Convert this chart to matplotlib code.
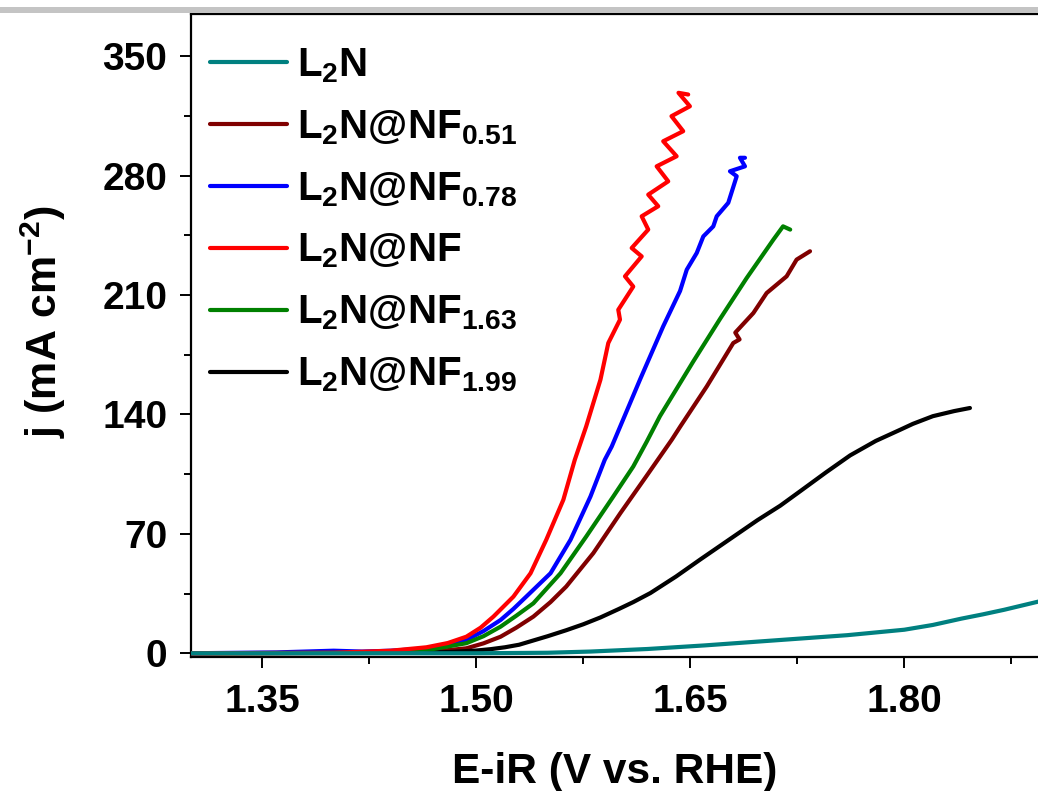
import matplotlib
matplotlib.use("Agg")
import matplotlib.pyplot as plt
from matplotlib.patches import Rectangle

plt.rcParams['font.family'] = ['Liberation Sans', 'DejaVu Sans']
plt.rcParams['font.weight'] = 'bold'
plt.rcParams['mathtext.fontset'] = 'custom'
plt.rcParams['mathtext.rm'] = 'Liberation Sans:bold'
plt.rcParams['mathtext.it'] = 'Liberation Sans:bold'
plt.rcParams['mathtext.bf'] = 'Liberation Sans:bold'
plt.rcParams['mathtext.default'] = 'rm'

# ---------------- data ----------------
labels = ["L$_2$N", "L$_2$N@NF$_{0.51}$", "L$_2$N@NF$_{0.78}$",
          "L$_2$N@NF", "L$_2$N@NF$_{1.63}$", "L$_2$N@NF$_{1.99}$"]
colors = ["#008080", "#800000", "#0000ff", "#ff0000", "#008000", "#000000"]

x_l2n = [1.30, 1.50, 1.55, 1.58, 1.62, 1.66, 1.71, 1.76, 1.80, 1.82, 1.84, 1.855, 1.87, 1.894]
y_l2n = [0, 0, 0.3, 1.0, 2.5, 4.6, 7.6, 10.6, 13.8, 16.6, 20.3, 22.8, 25.5, 30.3]

x_nf051 = [1.30, 1.44, 1.47, 1.493, 1.505, 1.517, 1.528, 1.54, 1.552, 1.563, 1.582,
           1.601, 1.619, 1.637, 1.643, 1.6615, 1.6801, 1.6845, 1.6815, 1.6942,
           1.7035, 1.7175, 1.7245, 1.7339]
y_nf051 = [0, 0.2, 1.0, 2.9, 5.8, 9.7, 15.0, 21.5, 30.0, 39.1, 58.7,
           82.2, 103.6, 125.2, 133.0, 156.4, 181.9, 184.0, 188.0, 199.5,
           211.2, 221.0, 230.8, 235.7]

x_nf078 = [1.30, 1.36, 1.38, 1.40, 1.42, 1.44, 1.46, 1.48, 1.493, 1.505, 1.517,
           1.526, 1.535, 1.552, 1.566, 1.58, 1.59, 1.5949, 1.6147, 1.631, 1.6428,
           1.6475, 1.6545, 1.6591, 1.6661, 1.6685, 1.6766, 1.6825, 1.6778, 1.6883,
           1.6848, 1.6883]
y_nf078 = [0, 0.5, 1.0, 1.5, 1.0, 1.5, 2.5, 4.5, 7.8, 13.0, 19.5,
           26.0, 33.2, 46.9, 66.5, 91.9, 113.4, 121.2, 160.4, 191.7, 212.4,
           224.9, 234.7, 244.4, 250.3, 256.2, 264.1, 279.7, 282.6, 285.5,
           290.5, 290.5]

x_nf = [1.30, 1.40, 1.44, 1.465, 1.48, 1.493, 1.503, 1.512, 1.526, 1.538, 1.549,
        1.561, 1.569, 1.577, 1.587, 1.5925, 1.6007, 1.5995, 1.61, 1.6042, 1.6159,
        1.6089, 1.6205, 1.6159, 1.6275, 1.6205, 1.6345, 1.6264, 1.6404, 1.631,
        1.645, 1.6368, 1.6497, 1.6417, 1.6485]
y_nf = [0, 0.3, 1.5, 3.5, 6.0, 9.7, 15.0, 21.5, 33.2, 46.9, 66.5,
        90.0, 113.4, 133.0, 160.4, 181.9, 195.6, 201.4, 215.0, 221.0, 232.7,
        237.6, 248.4, 256.2, 262.1, 268.9, 276.7, 285.5, 291.4, 300.2,
        306.1, 314.9, 320.7, 328.6, 327.6]

x_nf163 = [1.30, 1.42, 1.45, 1.47, 1.493, 1.505, 1.517, 1.528, 1.54, 1.559, 1.577,
           1.596, 1.61, 1.6194, 1.6287, 1.652, 1.6708, 1.6895, 1.7082, 1.715, 1.72]
y_nf163 = [0, 0.3, 1.0, 2.5, 5.9, 10.0, 15.6, 22.0, 29.3, 46.9, 68.4,
           91.9, 109.5, 124.0, 139.0, 171.0, 196.0, 220.0, 242.5, 250.3, 248.4]

x_nf199 = [1.30, 1.45, 1.48, 1.50, 1.51, 1.52, 1.53, 1.54, 1.55, 1.563, 1.575, 1.587,
           1.60, 1.61, 1.622, 1.64, 1.657, 1.677, 1.697, 1.713, 1.727, 1.745, 1.762,
           1.78, 1.797, 1.806, 1.82, 1.835, 1.846]
y_nf199 = [0, 0.2, 0.7, 1.6, 2.4, 3.5, 5.0, 7.5, 10.0, 13.5, 17.0, 21.0,
           26.0, 30.0, 35.3, 45.0, 55.0, 66.5, 78.0, 86.5, 95.0, 106.0, 116.0,
           124.5, 131.0, 134.5, 139.0, 142.0, 143.8]

series_x = [x_l2n, x_nf051, x_nf078, x_nf, x_nf163, x_nf199]
series_y = [y_l2n, y_nf051, y_nf078, y_nf, y_nf163, y_nf199]

x_major = [1.35, 1.50, 1.65, 1.80]
x_minor = [1.425, 1.575, 1.725, 1.875]
y_major = [0, 70, 140, 210, 280, 350]
y_minor = [35, 105, 175, 245, 315]

# ---------------- figure ----------------
W, H = 1038, 791
fig = plt.figure(figsize=(W / 100, H / 100), dpi=100)
fig.patch.set_facecolor('white')

# light grey band at the very top
fig.add_artist(Rectangle((0, 1 - 12.5 / H), 1, 5.5 / H, transform=fig.transFigure,
                         facecolor='#c4c4c4', edgecolor='none'))

left, right, top, bottom = 191, 1038, 13.5, 656.5
ax = fig.add_axes([left / W, 1 - bottom / H, (right - left) / W, (bottom - top) / H])

handles = []
zorders = [10, 3, 4, 5, 4, 3]
for xs, ys, c, lab, z in zip(series_x, series_y, colors, labels, zorders):
    h, = ax.plot(xs, ys, color=c, lw=3.0, label=lab, zorder=z,
                 solid_joinstyle='round', solid_capstyle='round')
    handles.append(h)

ax.set_xlim(1.30, 1.8937)
ax.set_ylim(-1.9, 375.1)

ax.set_xticks(x_major)
ax.set_xticks(x_minor, minor=True)
ax.set_xticklabels([f"{v:.2f}" for v in x_major])
ax.set_yticks(y_major)
ax.set_yticks(y_minor, minor=True)
ax.set_yticklabels([str(v) for v in y_major])

ax.spines['right'].set_visible(False)
for s in ['left', 'top', 'bottom']:
    ax.spines[s].set_linewidth(1.6)

ax.tick_params(axis='both', which='major', direction='out', length=8, width=1.4,
               labelsize=28, top=False, right=False)
ax.tick_params(axis='both', which='minor', direction='out', length=5, width=1.4,
               top=False, right=False)
ax.tick_params(axis='y', which='major', pad=9)
ax.tick_params(axis='x', which='major', pad=12)
for t in ax.get_xticklabels() + ax.get_yticklabels():
    t.set_fontweight('bold')

ax.set_xlabel("E-iR (V vs. RHE)", fontsize=30.5, fontweight='bold')
ax.set_ylabel("j (mA cm$^{-2}$)", fontsize=31, fontweight='bold')
ax.xaxis.set_label_coords(0.5, -0.148)
ax.yaxis.set_label_coords(-0.145, 0.52)

leg = ax.legend(handles, labels, loc='upper left',
                bbox_to_anchor=((210 - left) / (right - left), 1 - (46 - top) / (bottom - top)),
                frameon=False, borderpad=0, borderaxespad=0,
                handlelength=1.9, handletextpad=0.25, labelspacing=0.58,
                prop={'family': 'Liberation Sans', 'weight': 'bold', 'size': 29})
for l in leg.get_lines():
    l.set_linewidth(3.0)

fig.savefig("out.png", dpi=100)
